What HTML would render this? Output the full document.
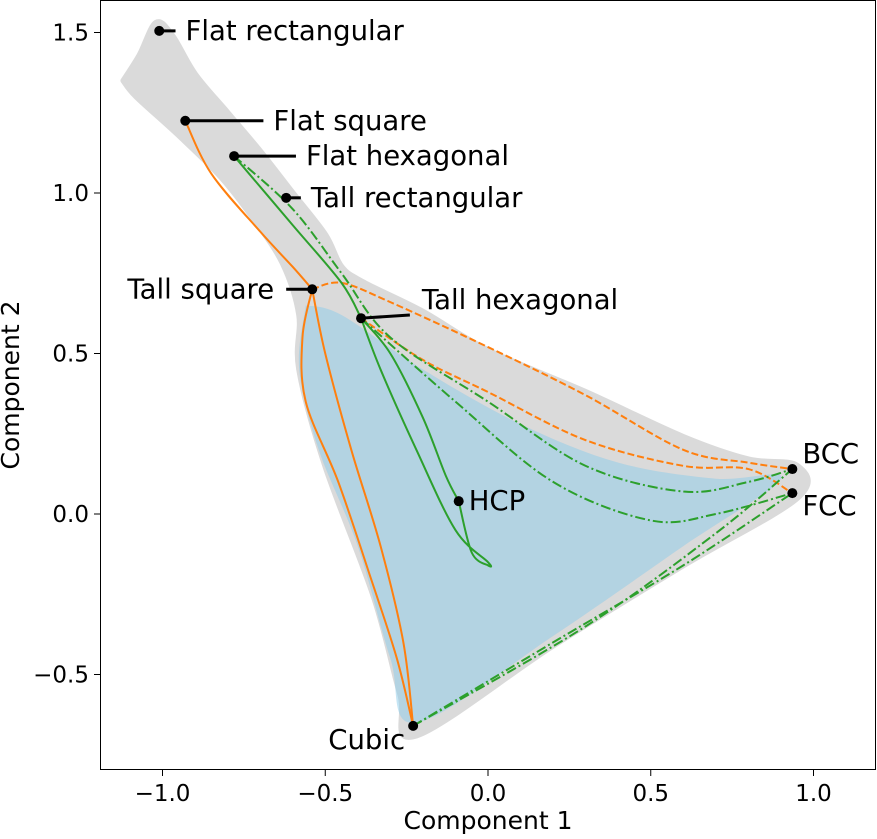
<!DOCTYPE html>
<html><head><meta charset="utf-8"><style>
body{margin:0;background:#fff}
svg text{font-family:"DejaVu Sans","Liberation Sans",sans-serif;fill:#000}
</style></head><body>
<svg id="c" width="877" height="834" viewBox="0 0 877 834"></svg>
<script>
const xTicks=[-1.0,-0.5,0.0,0.5,1.0];
const xTickLabels=["\u22121.0","\u22120.5","0.0","0.5","1.0"];
const yTicks=[-0.5,0.0,0.5,1.0,1.5];
const yTickLabels=["\u22120.5","0.0","0.5","1.0","1.5"];
const grayRegion=[[-1.12,1.35],[-1.07,1.43],[-1.02,1.53],[-0.97,1.49],[-0.9,1.37],[-0.8,1.25],[-0.7,1.13],[-0.6,1.0],[-0.5,0.87],[-0.45,0.77],[-0.38,0.72],[-0.2,0.63],[0,0.51],[0.3,0.38],[0.6,0.24],[0.8,0.17],[0.95,0.15],[0.95,0.05],[0.6,-0.16],[0.2,-0.41],[-0.22,-0.69],[-0.27,-0.56],[-0.35,-0.26],[-0.5,0.15],[-0.58,0.45],[-0.58,0.62],[-0.63,0.78],[-0.72,0.92],[-0.82,1.05],[-0.95,1.18],[-1.08,1.30]];
const blueRegion=[[-0.56,0.65],[-0.45,0.62],[-0.2,0.45],[0.1,0.28],[0.4,0.16],[0.7,0.11],[0.9,0.11],[0.6,-0.1],[0.2,-0.38],[-0.22,-0.65],[-0.3,-0.45],[-0.4,-0.1],[-0.52,0.2],[-0.58,0.45]];
const orangeSolid=[
 [[-0.93,1.225],[-0.85,1.06],[-0.7,0.88],[-0.6,0.77],[-0.54,0.70]],
 [[-0.54,0.70],[-0.57,0.55],[-0.56,0.35],[-0.46,0.1],[-0.36,-0.2],[-0.28,-0.45],[-0.23,-0.66]],
 [[-0.54,0.70],[-0.5,0.5],[-0.42,0.2],[-0.33,-0.1],[-0.26,-0.4],[-0.23,-0.66]]];
const orangeDashed=[
 [[-0.54,0.70],[-0.45,0.72],[-0.3,0.66],[0,0.52],[0.3,0.37],[0.6,0.2],[0.8,0.16],[0.935,0.14]],
 [[-0.39,0.61],[-0.2,0.48],[0,0.38],[0.3,0.23],[0.6,0.15],[0.8,0.14],[0.935,0.065]]];
const greenSolid=[
 [[-0.78,1.115],[-0.6,0.9],[-0.45,0.72],[-0.39,0.61]],
 [[-0.39,0.61],[-0.33,0.45],[-0.22,0.2],[-0.1,-0.05],[0.0,-0.15],[0.0,-0.16],[-0.05,-0.12],[-0.09,0.04]],
 [[-0.39,0.61],[-0.3,0.5],[-0.2,0.3],[-0.13,0.12],[-0.09,0.04]]];
const greenDashDot=[
 [[-0.78,1.115],[-0.6,0.95],[-0.45,0.75],[-0.3,0.55],[0,0.35],[0.3,0.15],[0.6,0.07],[0.8,0.1],[0.935,0.14]],
 [[-0.39,0.61],[-0.1,0.35],[0.2,0.1],[0.5,-0.02],[0.7,0.0],[0.935,0.065]],
 [[-0.23,-0.66],[0.2,-0.4],[0.6,-0.16],[0.935,0.065]],
 [[-0.23,-0.66],[0.3,-0.35],[0.7,-0.06],[0.935,0.14]]];
const labelNames=["Flat rectangular","Flat square","Flat hexagonal","Tall rectangular","Tall square","Tall hexagonal","HCP","BCC","FCC","Cubic"];
const labelX=[-1.01,-0.93,-0.78,-0.62,-0.54,-0.39,-0.09,0.935,0.935,-0.23];
const labelY=[1.505,1.225,1.115,0.985,0.70,0.61,0.04,0.14,0.065,-0.66];
const leaderEndX=[-0.96,-0.69,-0.59,-0.575,-0.62,-0.24,null,null,null,null];
const leaderEndY=[1.505,1.225,1.115,0.985,0.70,0.62,null,null,null,null];

const L=100,R=876,T=0,B=770;
const X=v=>488+v*325.5, Y=v=>514-v*321;
const svg=document.getElementById('c'),NS='http://www.w3.org/2000/svg';
function mk(t,a,p){const e=document.createElementNS(NS,t);for(const k in a)e.setAttribute(k,a[k]);(p||svg).appendChild(e);return e;}
function smooth(pts){const P=pts.map(p=>[X(p[0]),Y(p[1])]);let d='M'+P[0][0]+','+P[0][1];
 for(let i=0;i<P.length-1;i++){const p0=P[i-1]||P[i],p1=P[i],p2=P[i+1],p3=P[i+2]||p2;
 d+=' C'+(p1[0]+(p2[0]-p0[0])/6)+','+(p1[1]+(p2[1]-p0[1])/6)+' '+(p2[0]-(p3[0]-p1[0])/6)+','+(p2[1]-(p3[1]-p1[1])/6)+' '+p2[0]+','+p2[1];}return d;}
function poly(pts){return smooth(pts.concat([pts[0]]))+'Z';}

let e=mk('path',{d:poly(grayRegion),fill:'#dadada',stroke:'#dadada','stroke-width':6,'stroke-linejoin':'round'});

e=mk('path',{d:poly(blueRegion),fill:'#8ccbea','fill-opacity':0.5});


function lines(set,color,dash,name){set.forEach((s,i)=>{const p=mk('path',{d:smooth(s),fill:'none',stroke:color,'stroke-width':2});
 if(dash)p.setAttribute('stroke-dasharray',dash);
 
 });}
lines(orangeSolid,'#ff7f0e',null,'orange-solid-path');
lines(orangeDashed,'#ff7f0e','7,3','orange-dashed-path');
lines(greenSolid,'#2ca02c',null,'green-solid-path');
lines(greenDashDot,'#2ca02c','10,3,2,3','green-dashdot-path');

const anchors=[['start',14,9],['start',14,9],['start',14,9],['start',12,9],['end',-40,9],['start',58,-9],['start',10,9],['start',10,-6],['start',10,22],['end',-8,23]];
labelNames.forEach((n,i)=>{
 if(leaderEndX[i]!==null){const l=mk('line',{x1:X(labelX[i]),y1:Y(labelY[i]),x2:X(leaderEndX[i]),y2:Y(leaderEndY[i]),stroke:'#000','stroke-width':3});
  }
 const c=mk('circle',{cx:X(labelX[i]),cy:Y(labelY[i]),r:5,fill:'#000'});
 
 let tx=X(labelX[i])+anchors[i][1];
 if(leaderEndX[i]!==null&&anchors[i][0]==='start')tx=Math.max(X(leaderEndX[i]),X(labelX[i]))+10;
 if(i===4)tx=X(leaderEndX[i])-12;
 if(i===5)tx=X(leaderEndX[i])+12;
 const t=mk('text',{x:tx,y:Y(labelY[i])+anchors[i][2],'font-size':27.5,'text-anchor':anchors[i][0]});t.textContent=n;
 });

e=mk('rect',{x:L+0.5,y:T+0.5,width:R-L-1,height:B-T-1,fill:'none',stroke:'#000','stroke-width':1});

xTicks.forEach((v,i)=>{const l=mk('line',{x1:X(v),x2:X(v),y1:B,y2:B+6,stroke:'#000'});
 
 const t=mk('text',{x:X(v),y:B+31,'font-size':23,'text-anchor':'middle'});t.textContent=xTickLabels[i];
 });
yTicks.forEach((v,i)=>{const l=mk('line',{x1:L-6,x2:L,y1:Y(v),y2:Y(v),stroke:'#000'});
 
 const t=mk('text',{x:L-11,y:Y(v)+8,'font-size':23,'text-anchor':'end'});t.textContent=yTickLabels[i];
 });
e=mk('text',{x:488,y:829,'font-size':25,'text-anchor':'middle'});e.textContent='Component 1';

e=mk('text',{x:19,y:385,'font-size':25,'text-anchor':'middle',transform:'rotate(-90 19 385)'});e.textContent='Component 2';

</script>
</body></html>
